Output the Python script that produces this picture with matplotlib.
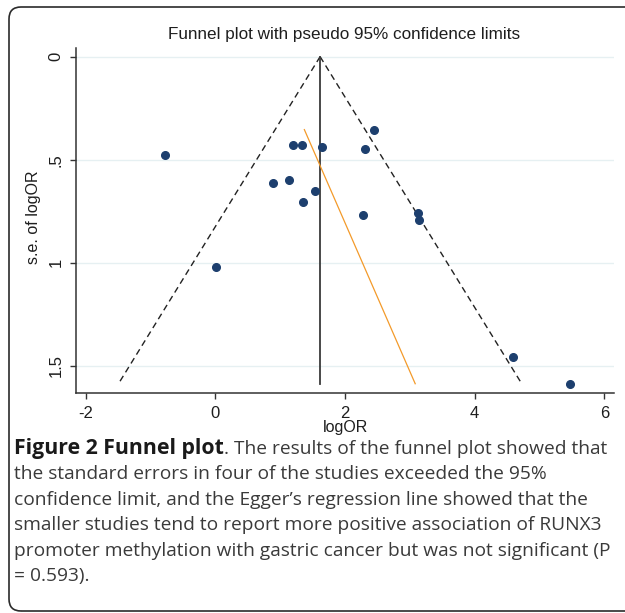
import matplotlib
matplotlib.use("Agg")
import matplotlib.pyplot as plt
from matplotlib.patches import FancyBboxPatch
from matplotlib.transforms import IdentityTransform
import numpy as np

# ---- data ----
logor = [-0.78, 0.01, 0.89, 1.13, 1.20, 1.34, 1.35, 1.53, 1.65,
         2.31, 2.44, 2.28, 3.12, 3.14, 4.59, 5.47]
se_logor = [0.478, 1.023, 0.611, 0.600, 0.427, 0.427, 0.706, 0.651, 0.438,
            0.446, 0.354, 0.768, 0.757, 0.792, 1.458, 1.587]
theta_fixed = 1.616          # pooled estimate (vertical line)
egger_intercept = 0.882      # Egger regression line: logOR = a + b * se
egger_slope = 1.387
xticks = [-2, 0, 2, 4, 6]
xticklabels = ["-2", "0", "2", "4", "6"]
yticks = [0, 0.5, 1, 1.5]
yticklabels = ["0", ".5", "1", "1.5"]

title = "Funnel plot with pseudo 95% confidence limits"
xlabel = "logOR"
ylabel = "s.e. of logOR"
caption_bold = "Figure 2 Funnel plot"
caption_lines = [
    ". The results of the funnel plot showed that",
    "the standard errors in four of the studies exceeded the 95%",
    "confidence limit, and the Egger\u2019s regression line showed that the",
    "smaller studies tend to report more positive association of RUNX3",
    "promoter methylation with gastric cancer but was not significant (P",
    "= 0.593).",
]

W, H = 625, 613
fig = plt.figure(figsize=(W / 100, H / 100), dpi=100)
fig.patch.set_facecolor("white")

# rounded frame
frame = FancyBboxPatch((9, 2), 660, 604, boxstyle="round,pad=0,rounding_size=12",
                       transform=IdentityTransform(), facecolor="none",
                       edgecolor="#2b2b2b", linewidth=1.2)
fig.patches.append(frame)

ax = fig.add_axes([76 / W, 1 - 393 / H, (614 - 76) / W, (393 - 48) / H])
ax.set_facecolor("white")

se_max = max(se_logor)
se_min = min(se_logor)
se_line = np.array([0.0, se_max])
ax.plot(theta_fixed - 1.96 * se_line, se_line, color="#222222", lw=1.0,
        dashes=(4.5, 3.0), zorder=3)
ax.plot(theta_fixed + 1.96 * se_line, se_line, color="#222222", lw=1.0,
        dashes=(4.5, 3.0), zorder=3)
ax.plot([theta_fixed, theta_fixed], [0, se_max], color="#3a3a3a", lw=1.3, zorder=3)
se_e = np.array([se_min, se_max])
ax.plot(egger_intercept + egger_slope * se_e, se_e, color="#f39a2a", lw=0.9, zorder=3)
ax.plot(logor, se_logor, "o", color="#1d3f6e", markersize=5.5, zorder=4)

ax.set_xlim(-2.15, 6.15)
ax.set_ylim(1.632, -0.042)
ax.set_xticks(xticks)
ax.set_xticklabels(xticklabels)
ax.set_yticks(yticks)
ax.set_yticklabels(yticklabels, rotation=90, va="center")
for s in ["top", "right"]:
    ax.spines[s].set_visible(False)
for s in ["left", "bottom"]:
    ax.spines[s].set_color("#333333")
    ax.spines[s].set_linewidth(1.1)
ax.tick_params(axis="both", direction="out", length=4.5, width=1.0, color="#333333",
               labelsize=12, labelcolor="#1e1e1e", pad=4.5)
for lab in ax.get_xticklabels() + ax.get_yticklabels():
    lab.set_family("Liberation Sans")
ax.yaxis.grid(True, color="#e6f0f2", lw=1.0)
ax.set_axisbelow(True)

ax.set_xlabel(xlabel, fontsize=11.5, family="Liberation Sans", color="#1e1e1e", va="top")
ax.xaxis.set_label_coords(0.5, -0.077)
ax.set_ylabel(ylabel, fontsize=11.5, family="Liberation Sans", color="#1e1e1e")
ax.yaxis.set_label_coords(-0.065, 0.51)

fig.text(344 / W, 1 - 34 / H, title, ha="center", va="center", fontsize=12.3,
         family="Liberation Sans", color="#1e1e1e")

# caption
cap_fs = 13.8
cap_bold_fs = 15.3
x0 = 14
base0 = 454
step = 25.4
renderer = fig.canvas.get_renderer()
tb = fig.text(x0 / W, 1 - base0 / H, caption_bold, fontsize=cap_bold_fs, family="Open Sans",
              weight="bold", color="#1a1a1a", va="baseline", ha="left")
bb = tb.get_window_extent(renderer=renderer)
fig.text(bb.x1 / W, 1 - base0 / H, caption_lines[0], fontsize=cap_fs, family="Open Sans",
         color="#3a3a3a", va="baseline", ha="left")
for i, line in enumerate(caption_lines[1:], start=1):
    fig.text(x0 / W, 1 - (base0 + i * step) / H, line, fontsize=cap_fs, family="Open Sans",
             color="#3a3a3a", va="baseline", ha="left")

fig.savefig("out.png", dpi=100)
